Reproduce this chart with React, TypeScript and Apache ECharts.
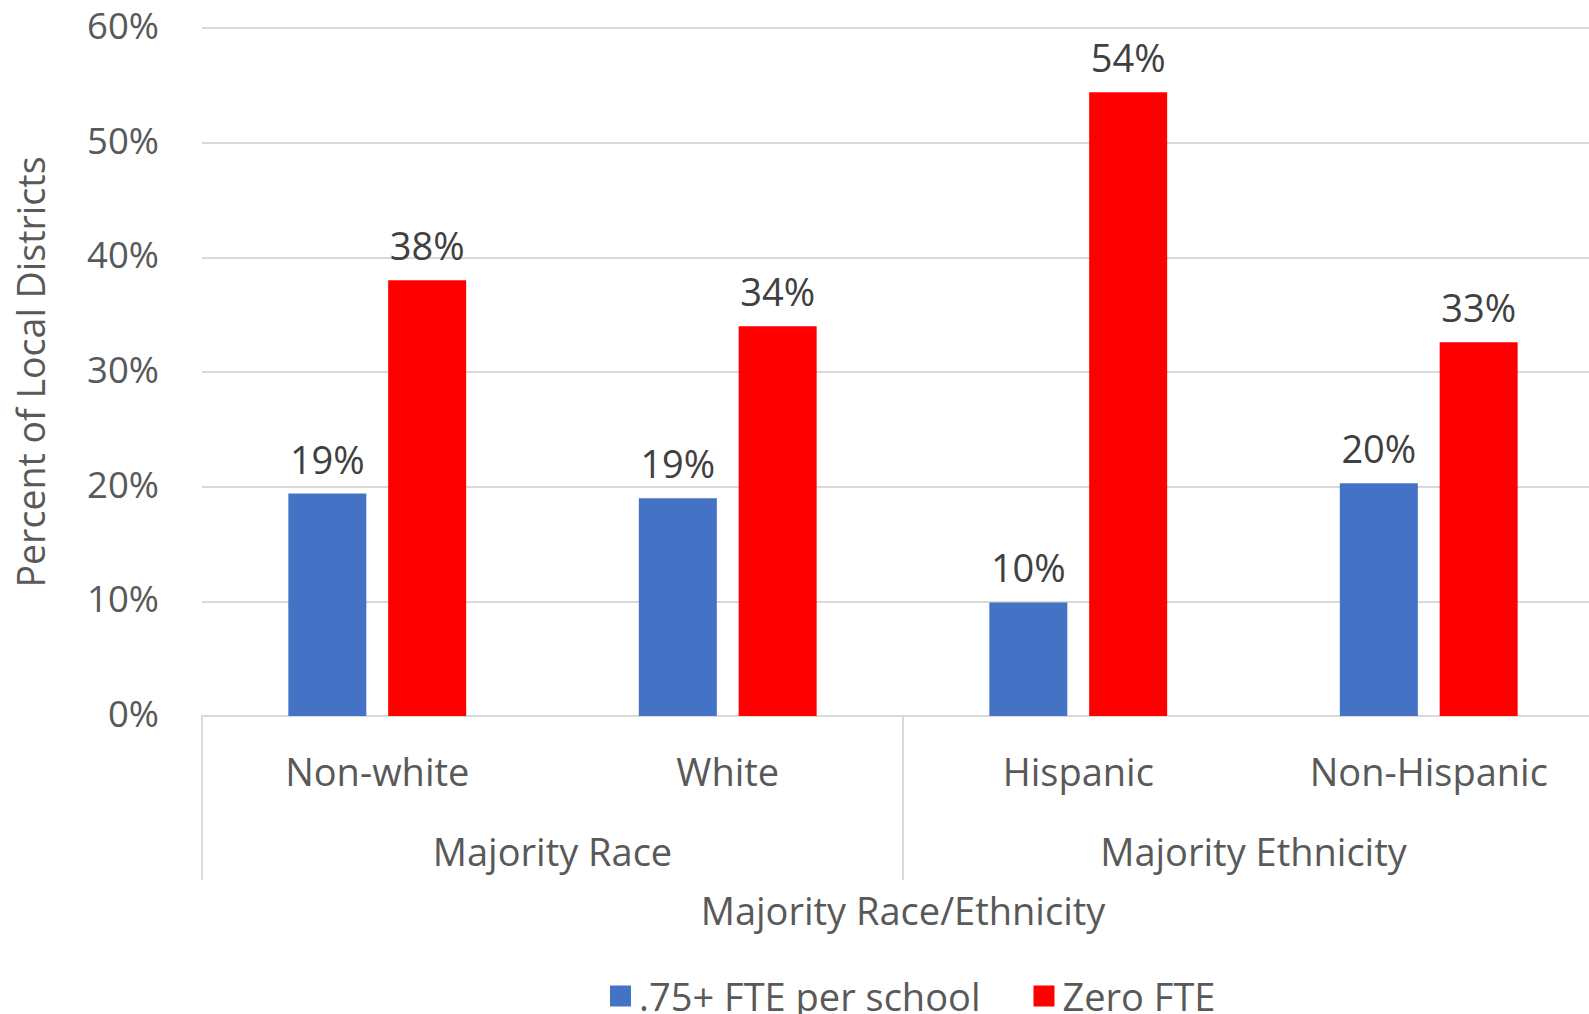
import React, { useEffect, useRef } from "react";
import * as echarts from "echarts";

const categories = ["Non-white", "White", "Hispanic", "Non-Hispanic"];
const groups = ["Majority Race", "Majority Ethnicity"];
const seriesNames = [".75+ FTE per school", "Zero FTE"];
const fteValues = [19.4, 19.0, 9.9, 20.3];
const zeroValues = [38.0, 34.0, 54.4, 32.6];
const yTicks = { min: 0, max: 60, interval: 10 };

const FONT = "'Open Sans', 'Noto Sans', sans-serif";
const AXIS_COLOR = "#595959";
const LABEL_COLOR = "#404040";
const LINE_COLOR = "#d9d9d9";

export default function App() {
  const ref = useRef<HTMLDivElement>(null);
  useEffect(() => {
    if (!ref.current) return;
    const chart = echarts.init(ref.current, undefined, { renderer: "svg" });
    const labelFmt = (p: any) => Math.round(p.value) + "%";
    chart.setOption({
      animation: false,
      textStyle: { fontFamily: FONT },
      grid: { left: 202, top: 28, width: 1402, height: 688, containLabel: false },
      legend: {
        data: seriesNames,
        left: 605,
        top: 972,
        itemWidth: 21,
        itemHeight: 21,
        itemGap: 53,
        icon: "rect",
        textStyle: { fontSize: 38, color: AXIS_COLOR, fontFamily: FONT, padding: [0, 0, 0, 3] },
      },
      xAxis: [
        {
          type: "category",
          data: categories,
          position: "bottom",
          axisLine: { show: true, lineStyle: { color: LINE_COLOR, width: 2 } },
          axisTick: { show: false },
          axisLabel: { margin: 36, fontSize: 38, color: AXIS_COLOR, fontFamily: FONT },
          splitLine: { show: false },
        },
        {
          type: "category",
          data: groups,
          position: "bottom",
          boundaryGap: true,
          axisLine: { show: false },
          axisTick: { show: true, length: 164, lineStyle: { color: LINE_COLOR, width: 2 } },
          axisLabel: { margin: 116, fontSize: 38, color: AXIS_COLOR, fontFamily: FONT },
          splitLine: { show: false },
        },
      ],
      yAxis: {
        type: "value",
        min: yTicks.min,
        max: yTicks.max,
        interval: yTicks.interval,
        axisLine: { show: false },
        axisTick: { show: false },
        axisLabel: {
          formatter: "{t|{value}%}",
          margin: 43,
          color: AXIS_COLOR,
          fontFamily: FONT,
          rich: {
            t: {
              fontSize: 36.5,
              color: AXIS_COLOR,
              fontFamily: FONT,
              padding: [0, 0, 6, 0],
            },
          },
        },
        splitLine: { lineStyle: { color: LINE_COLOR, width: 2 } },
        name: "Percent of Local Districts",
        nameLocation: "middle",
        nameGap: 153,
        nameTextStyle: { fontSize: 37.5, color: AXIS_COLOR, fontFamily: FONT },
      },
      graphic: [
        {
          type: "text",
          x: 903,
          y: 910,
          style: {
            text: "Majority Race/Ethnicity",
            fontSize: 38,
            fill: AXIS_COLOR,
            fontFamily: FONT,
            align: "center",
            verticalAlign: "middle",
          },
        },
      ],
      series: [
        {
          name: seriesNames[0],
          type: "bar",
          xAxisIndex: 0,
          data: fteValues,
          barWidth: 78,
          barGap: "28%",
          itemStyle: { color: "#4472C4" },
          label: { show: true, position: "top", distance: 16, formatter: labelFmt, fontSize: 38, color: LABEL_COLOR, fontFamily: FONT },
        },
        {
          name: seriesNames[1],
          type: "bar",
          xAxisIndex: 0,
          data: zeroValues,
          barWidth: 78,
          barGap: "28%",
          itemStyle: { color: "#FF0000" },
          label: { show: true, position: "top", distance: 16, formatter: labelFmt, fontSize: 38, color: LABEL_COLOR, fontFamily: FONT },
        },
      ],
    });
    return () => chart.dispose();
  }, []);
  return (
    <div
      ref={ref}
      style={{ position: "fixed", left: 0, top: 0, width: 1620, height: 1014, background: "#fff" }}
    />
  );
}
